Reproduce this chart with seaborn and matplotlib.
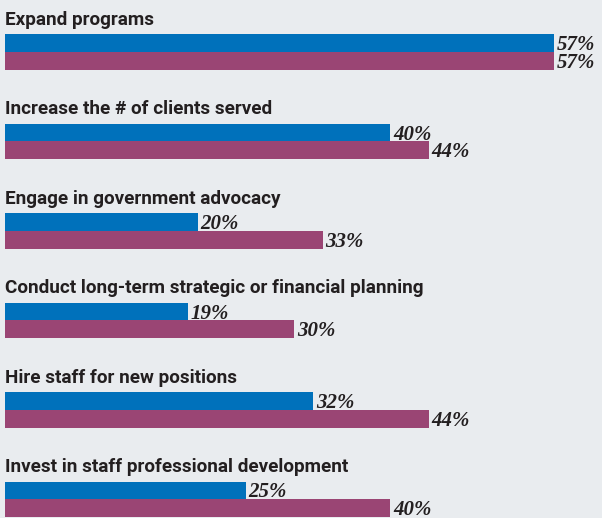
import pandas as pd
import numpy as np
import matplotlib
matplotlib.use('Agg')
import matplotlib.pyplot as plt
import seaborn as sns

# ---------------------------------------------
# data
# ---------------------------------------------
categories = [
    'Expand programs',
    'Increase the # of clients served',
    'Engage in government advocacy',
    'Conduct long-term strategic or financial planning',
    'Hire staff for new positions',
    'Invest in staff professional development',
]
series_names = ['Series A', 'Series B']
series_a = [57, 40, 20, 19, 32, 25]
series_b = [57, 44, 33, 30, 44, 40]

BG = '#e9ecef'
BLUE = '#0071bb'
PURPLE = '#9a4574'
INK = '#231f20'

df = pd.DataFrame({
    'category': categories * 2,
    'series': [series_names[0]] * len(categories) + [series_names[1]] * len(categories),
    'value': series_a + series_b,
})

sns.set_theme(style='white')
plt.rcParams['font.family'] = ['Roboto', 'DejaVu Sans']

fig = plt.figure(figsize=(6.02, 5.18), dpi=100, facecolor=BG)
ax = fig.add_axes([0, 0, 1, 1])
ax.set_facecolor(BG)

bar_w = 0.392
sns.barplot(data=df, y='category', x='value', hue='series', order=categories,
            hue_order=series_names, palette=[BLUE, PURPLE], orient='h',
            width=bar_w, gap=0, saturation=1, legend=False, ax=ax, errorbar=None,
            linewidth=0, edgecolor='none')

# axis limits so 0 sits ~5px from the left edge
ax.set_xlim(-0.52, 62.0)
ax.set_ylim(5.207, -0.581)

# group labels above each pair of bars
for i, cat in enumerate(categories):
    ax.text(0, i - bar_w / 2 - 0.11, cat, ha='left', va='baseline',
            fontsize=13.6, fontweight='bold', color=INK)

# value labels at the bar ends
for container in ax.containers:
    for bar in container:
        w = bar.get_width()
        yc = bar.get_y() + bar.get_height() / 2
        ax.text(w + 0.3, yc + 0.02, f'{w:.0f}%', ha='left', va='center',
                fontsize=15, fontweight='bold', fontstyle='italic',
                family=['Liberation Serif', 'DejaVu Serif'], color=INK)

ax.set_xlabel('')
ax.set_ylabel('')
ax.set_xticks([])
ax.set_yticks([])
for s in ax.spines.values():
    s.set_visible(False)

fig.savefig('out.png', dpi=100, facecolor=BG)
